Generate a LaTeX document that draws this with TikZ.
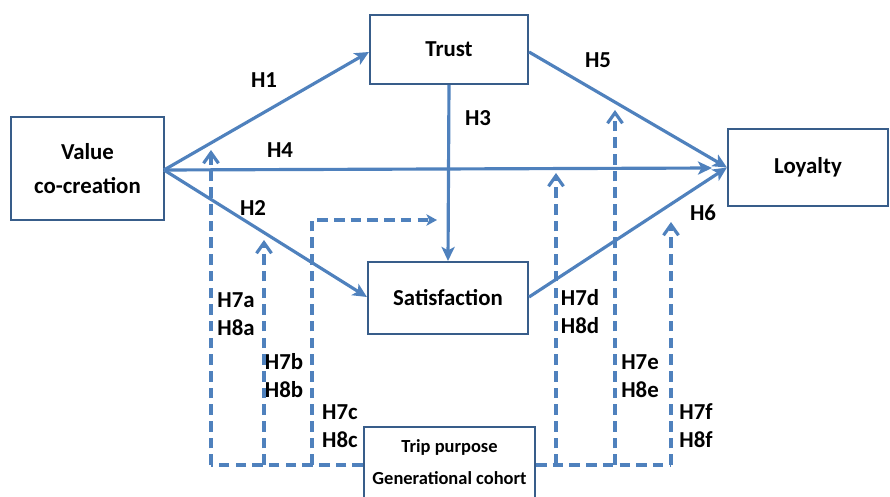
\documentclass[tikz,border=0pt]{standalone}
\usepackage{fontspec}
\setmainfont{Carlito}
\usetikzlibrary{arrows.meta}
\definecolor{c1}{HTML}{4F81BD}
\definecolor{c2}{HTML}{385D8A}

\begin{document}
\begin{tikzpicture}[
    x=0.02cm, y=-0.02cm,
    every node/.style={font=\fontsize{13}{16}\selectfont\bfseries},
    box/.style={draw=c2, line width=1.2pt, fill=white, align=center, inner sep=0pt},
    path/.style={draw=c1, line width=1.8pt, -{Stealth[length=8pt, width=7.5pt, inset=2pt]}},
    mod/.style={draw=c1, line width=1.8pt, dash pattern=on 6pt off 3.5pt,
        -{Straight Barb[length=6pt, width=8.5pt]}},
    hyp/.style={inner sep=0pt},
]
\useasboundingbox (0,0) rectangle (890,497);
\clip (0,0) rectangle (890,497);

% ================================================================ constructs
\node[box, minimum width=153*0.02cm, minimum height=103*0.02cm] (value) at (87.5,168.5) {Value\\[3pt]co-creation};
\node[box, minimum width=158*0.02cm, minimum height=69*0.02cm] (trust) at (449,49.5) {Trust};
\node[box, minimum width=160*0.02cm, minimum height=72*0.02cm] (sat) at (448,298) {Satisfaction};
\node[box, minimum width=160*0.02cm, minimum height=77*0.02cm] (loyal) at (808,167.5) {Loyalty};
\node[box, minimum width=171*0.02cm, minimum height=76*0.02cm] (cohort) at (449.5,465) {};
\node (trip) at (449.5,447) {\fontsize{10.5}{13}\selectfont\bfseries Trip purpose};
\node (gen) at (449.5,478) {\fontsize{10.5}{13}\selectfont\bfseries Generational cohort};

% ================================================================ direct paths
\coordinate (vr) at (164,170);
\coordinate (h4end) at (712,168);
\draw[path] (vr) -- (trust.west |- 0,52);
\draw[path] (vr) -- (sat.west |- 0,297);
\draw[path] (vr) -- (h4end);
\draw[path] (trust.south) -- (sat.north);
\draw[path] (trust.east |- 0,52) -- (loyal.west);
\draw[path] (sat.east |- 0,297) -- (loyal.west);

\node[hyp] (h1) at (264,80) {H1};
\node[hyp] (h2) at (253,208) {H2};
\node[hyp] (h3) at (478,118) {H3};
\node[hyp] (h4) at (280,150) {H4};
\node[hyp] (h5) at (598,60) {H5};
\node[hyp] (h6) at (703,213) {H6};

% ================================================================ moderation
\coordinate (ja) at (211,465);
\coordinate (jb) at (264,465);
\coordinate (jc) at (312,465);
\coordinate (jd) at (556,465);
\coordinate (je) at (615,465);
\coordinate (jf) at (671,465);
\coordinate (jk) at (312,220);

\draw[mod, -] (cohort.west) -- (ja);
\draw[mod, -] (cohort.east) -- (jf);
\draw[mod] (ja) -- (211,150);
\draw[mod] (jb) -- (264,240);
\draw[mod, -{Stealth[length=6pt, width=6.5pt, inset=1.5pt]}] (jc) -- (jk) -- (437,220);
\draw[mod] (jd) -- (556,173);
\draw[mod] (je) -- (615,110);
\draw[mod] (jf) -- (671,222);

\foreach \n/\x/\y in {a/236/300, b/284/362, c/340/412, d/580/298, e/640/362, f/696/412}{
    \node[hyp] (h7\n) at (\x,\y) {H7\n};
    \node[hyp] (h8\n) at (\x,\y+28) {H8\n};
}
\end{tikzpicture}
\end{document}
